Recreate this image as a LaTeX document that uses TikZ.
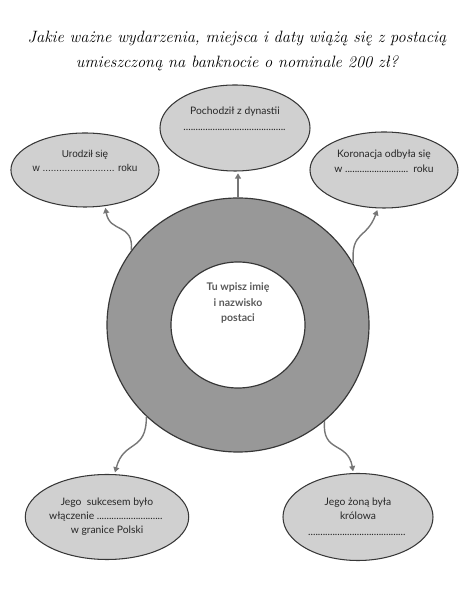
\documentclass[tikz,border=0pt]{standalone}
\usepackage{fontspec}
\usepackage{xcolor}
\usetikzlibrary{shapes.geometric,arrows.meta}
\newfontfamily\roundfont{Lato}
\newfontfamily\arialfont{Liberation Sans}
\definecolor{ringG}{RGB}{152,152,152}
\definecolor{bubG}{RGB}{208,208,208}
\definecolor{lineG}{RGB}{55,55,55}
\definecolor{arrG}{RGB}{118,118,118}
\newcommand\blank[1]{\makebox[#1]{\leaders\hbox{.}\hfill}}

\begin{document}
\begin{tikzpicture}[x=0.03cm,y=0.03cm,
    bubble/.style={ellipse,draw=lineG,line width=0.9pt,fill=bubG,inner sep=0pt,
      align=center,text=black!85,font=\roundfont\fontsize{8.8}{12}\selectfont},
    link/.style={arrG,line width=1.2pt,-{Triangle[length=4.5pt,width=5pt]},shorten >=1.5pt,looseness=1.4}]
  \useasboundingbox (0,0) rectangle (473,594);
  % title
  \node[font=\itshape\fontsize{14}{21}\selectfont,align=center] (title) at (237,543)
    {Jakie ważne wydarzenia, miejsca i daty wiążą się z postacią\\
     umieszczoną na banknocie o nominale 200 zł?};
  % ring in the middle
  \node[ellipse,draw=lineG,line width=1pt,fill=ringG,minimum width=7.86cm,minimum height=7.62cm] (ring) at (238,269) {};
  \node[ellipse,draw=lineG,line width=1pt,fill=white,minimum width=4.02cm,minimum height=3.78cm] (hole) at (238,269) {};
  \node[align=center,text=black!65,font=\roundfont\bfseries\fontsize{9}{13}\selectfont] (who) at (238,291)
    {Tu wpisz imię\\i nazwisko\\postaci};
  % bubbles
  \node[bubble,minimum width=4.5cm,minimum height=2.58cm] (dyn) at (235,466)
    {Pochodził z dynastii\\[2pt]\blank{88pt}\\[4pt]};
  \node[bubble,minimum width=4.2cm,minimum height=2.22cm,font=\arialfont\fontsize{8.5}{12}\selectfont] (born) at (85,424)
    {Urodził się\\w \blank{62pt} roku\\[3pt]};
  \node[bubble,minimum width=4.44cm,minimum height=2.28cm] (crown) at (384,424)
    {Koronacja odbyła się\\w \blank{56pt} roku\\[3pt]};
  \node[bubble,minimum width=4.53cm,minimum height=2.55cm] (land) at (107,77)
    {Jego \ sukcesem było\\włączenie \blank{58pt}\\w granice Polski};
  \node[bubble,minimum width=4.5cm,minimum height=2.61cm] (wife) at (358,77)
    {Jego żoną była\\królowa\\[2pt]\blank{85pt}};
  % arrows
  \draw[link] (ring.north) -- (ring.north |- dyn.south);
  \draw[link] (ring.145) to[out=85,in=-80] (born.-61);
  \draw[link] (ring.28) to[out=95,in=-110] (crown.-99);
  \draw[link] (ring.225) to[out=-90,in=75] (land.80);
  \draw[link] (ring.312) to[out=-95,in=100] (wife.96);
\end{tikzpicture}
\end{document}
